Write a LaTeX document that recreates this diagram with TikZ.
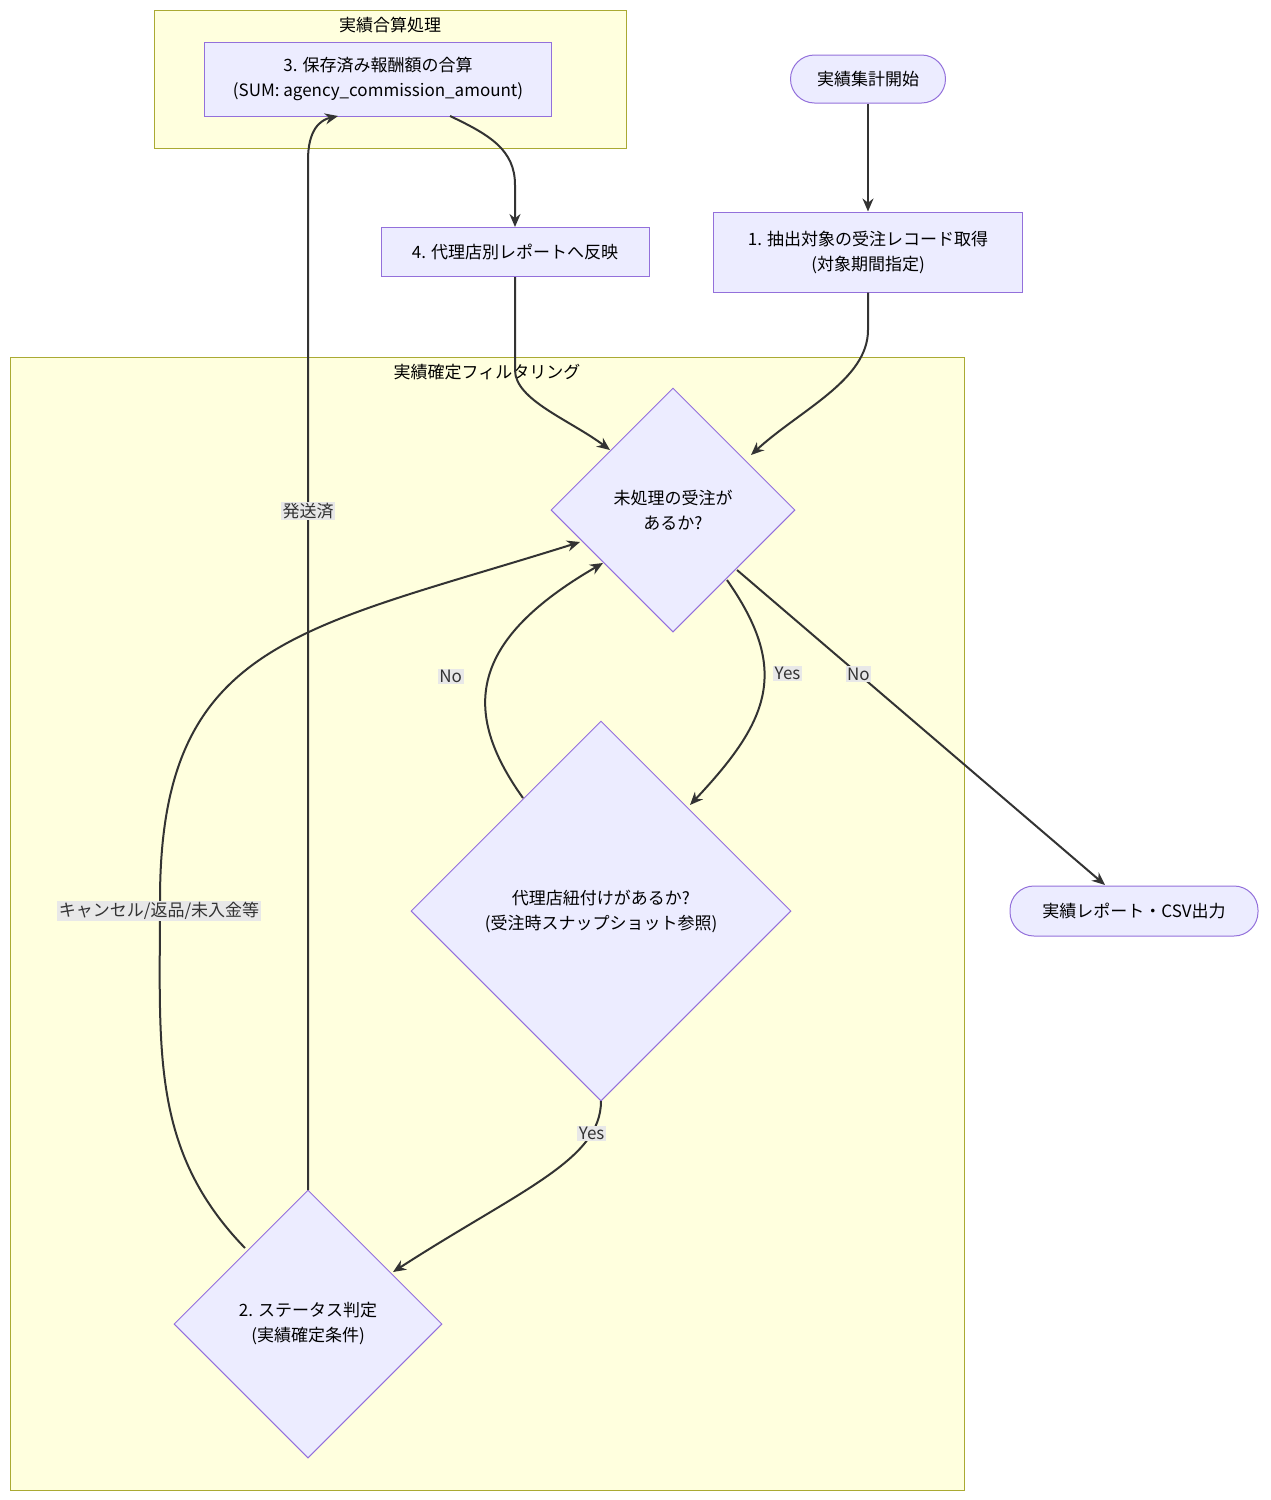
\documentclass[tikz,border=0pt]{standalone}
\usepackage{fontspec}
\setmainfont{Noto Sans CJK JP}
\usetikzlibrary{positioning, shapes.geometric, arrows.meta}
\definecolor{nodefill}{HTML}{ECECFF}
\definecolor{nodeline}{HTML}{9370DB}
\definecolor{clfill}{HTML}{FFFFDE}
\definecolor{clline}{HTML}{AAAA33}
\definecolor{edgecol}{HTML}{333333}
\definecolor{lblbg}{HTML}{E8E8E8}
\begin{document}
\begin{tikzpicture}[x=1pt, y=-1pt,
    font=\fontsize{17}{25}\selectfont,
    box/.style={draw=nodeline, fill=nodefill, line width=1pt, align=center, inner sep=0pt},
    term/.style={box, rounded corners=24pt},
    dia/.style={box, diamond, aspect=1},
    cluster/.style={draw=clline, fill=clfill, line width=1pt},
    flow/.style={draw=edgecol, line width=2pt, -{Stealth[length=13pt,width=11pt]}},
    lbl/.style={fill=lblbg, inner sep=1.5pt, text=edgecol}]
    \useasboundingbox (0,0) rectangle (1270,1500);
    % clusters
    \draw[cluster] (154,10) rectangle (626,148);
    \node (sumtitle) at (390,25) {実績合算処理};
    \draw[cluster] (10,357) rectangle (964,1490);
    \node (filtertitle) at (487,372) {実績確定フィルタリング};
    % nodes
    \node[box, minimum width=347pt, minimum height=74pt] (sum) at (378,79) {3. 保存済み報酬額の合算\\(SUM: agency\_commission\_amount)};
    \node[term, minimum width=155pt, minimum height=48pt] (start) at (868,79) {実績集計開始};
    \node[box, minimum width=309pt, minimum height=80pt] (fetch) at (868,252) {1. 抽出対象の受注レコード取得\\(対象期間指定)};
    \node[box, minimum width=268pt, minimum height=49pt] (report) at (515,252) {4. 代理店別レポートへ反映};
    \node[dia, minimum width=244pt, minimum height=244pt] (remain) at (673,510) {未処理の受注が\\あるか?};
    \node[dia, minimum width=380pt, minimum height=380pt] (agency) at (601,911) {代理店紐付けがあるか?\\(受注時スナップショット参照)};
    \node[dia, minimum width=268pt, minimum height=268pt] (status) at (308,1324) {2. ステータス判定\\(実績確定条件)};
    \node[term, minimum width=248pt, minimum height=50pt] (done) at (1134,911) {実績レポート・CSV出力};
    % edges
    \draw[flow] (start) -- (fetch);
    \draw[flow] (fetch.south) -- (868,330) .. controls (868,380) and (800,410) .. (751,455);
    \draw[flow] (report.south) -- (515,370) .. controls (515,400) and (570,420) .. (610,450);
    \draw[flow] (450,116) .. controls (490,135) and (515,150) .. (515,185) -- (report.north);
    \draw[flow] (727,580) .. controls (790,670) and (770,720) .. (690,805)
        node[lbl, pos=0.4, right=8pt] (yes1) {Yes};
    \draw[flow] (737,570) -- (1105,885) node[lbl, pos=0.33] (no1) {No};
    \draw[flow] (523,798) .. controls (460,710) and (470,640) .. (603,563)
        node[lbl, pos=0.5, left=25pt] (no2) {No};
    \draw[flow] (601,1101) .. controls (601,1160) and (520,1190) .. (393,1272)
        node[lbl, pos=0.2] (yes2) {Yes};
    \draw[flow] (245,1248) .. controls (150,1150) and (160,1050) .. (160,900)
        .. controls (160,640) and (300,630) .. (580,542);
    \node[lbl] (cancel) at (159,911) {キャンセル/返品/未入金等};
    \draw[flow] (308,1190) -- (308,160) .. controls (308,130) and (320,120) .. (338,116);
    \node[lbl] (shipped) at (308,511) {発送済};
\end{tikzpicture}
\end{document}
